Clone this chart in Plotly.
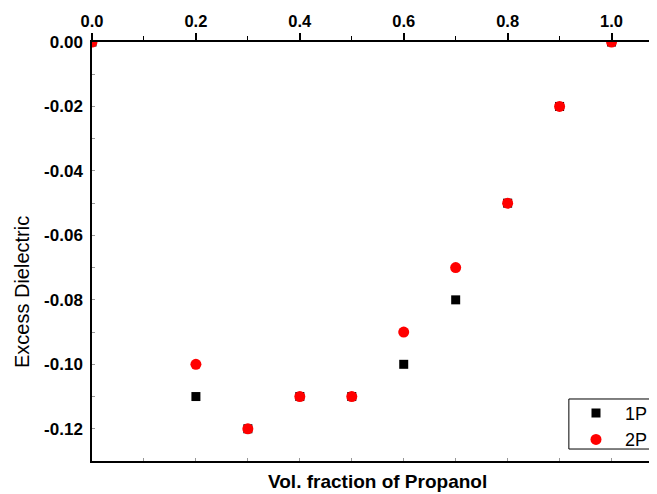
import plotly.graph_objects as go

vol_fraction = [0.0, 0.2, 0.3, 0.4, 0.5, 0.6, 0.7, 0.8, 0.9, 1.0]
excess_1p = [0.0, -0.11, -0.12, -0.11, -0.11, -0.10, -0.08, -0.05, -0.02, 0.0]
excess_2p = [0.0, -0.10, -0.12, -0.11, -0.11, -0.09, -0.07, -0.05, -0.02, 0.0]
x_ticks = [0.0, 0.2, 0.4, 0.6, 0.8, 1.0]
y_ticks = [0.00, -0.02, -0.04, -0.06, -0.08, -0.10, -0.12]
x_title = "Vol. fraction of Propanol"
y_title = "Excess Dielectric"

FONT = "Liberation Sans, Arial, sans-serif"

fig = go.Figure()
fig.add_trace(go.Scatter(x=vol_fraction, y=excess_1p, mode="markers", name="1P",
                         marker=dict(symbol="square", size=9, color="black"),
                         cliponaxis=True))
fig.add_trace(go.Scatter(x=vol_fraction, y=excess_2p, mode="markers", name="2P",
                         marker=dict(symbol="circle", size=11, color="#ff0000"),
                         cliponaxis=True))
fig.add_trace(go.Scatter(x=[None], y=[None], xaxis="x2", showlegend=False, hoverinfo="skip"))

xrange = [0, 1.0875]
# page body has an 8px margin, so the figure is sized to fill the rest of the window
fig.update_layout(
    template="none",
    width=649, height=486,
    margin=dict(l=84, r=0, t=34, b=33, pad=0),
    plot_bgcolor="white", paper_bgcolor="white",
    font=dict(family=FONT, color="black"),
    xaxis=dict(side="top", range=xrange, tickvals=x_ticks, ticktext=[f"{v:.1f}" for v in x_ticks],
               automargin=False,
               showline=True, linecolor="black", linewidth=1.5, showgrid=False, zeroline=False,
               ticks="outside", ticklen=7, tickwidth=1.5, tickcolor="black", ticklabelstandoff=0,
               minor=dict(tickvals=[0.1, 0.3, 0.5, 0.7, 0.9], ticks="outside", ticklen=4, tickcolor="black", tickwidth=1),
               tickfont=dict(size=16.5, family=FONT, weight="bold")),
    xaxis2=dict(overlaying="x", side="bottom", range=xrange, showline=True, linecolor="black", linewidth=1.5,
                automargin=False,
                showgrid=False, zeroline=False, showticklabels=False,
                tickvals=[0.1, 0.2, 0.3, 0.4, 0.5, 0.6, 0.7, 0.8, 0.9, 1.0],
                ticks="inside", ticklen=3, tickcolor="#999999", tickwidth=1),
    yaxis=dict(range=[-0.13, 0.0], tickvals=y_ticks, ticktext=[f"{v:.2f}" for v in y_ticks],
               automargin=False,
               showline=True, linecolor="black", linewidth=1.5, showgrid=False, zeroline=False,
               ticks="inside", ticklen=3, tickcolor="#999999", tickwidth=1, ticklabelstandoff=4,
               minor=dict(tickvals=[-0.01, -0.03, -0.05, -0.07, -0.09, -0.11], ticks="inside", ticklen=3, tickcolor="#999999"),
               tickfont=dict(size=17, family=FONT, weight="bold")),
    legend=dict(x=0.8407, y=0.158, xanchor="left", yanchor="top",
                borderwidth=0, bgcolor="rgba(0,0,0,0)",
                font=dict(size=18, family=FONT), itemwidth=48, tracegroupgap=0),
    showlegend=True,
    shapes=[dict(type="rect", xref="paper", yref="paper", x0=0.844, x1=0.9965, y0=0.0286, y1=0.148,
                 line=dict(color="black", width=1), fillcolor="white", layer="below")],
    annotations=[
        dict(text=x_title, xref="paper", yref="paper", x=0.505, y=-0.05, xanchor="center", yanchor="middle",
             showarrow=False, font=dict(size=19, family=FONT, weight="bold")),
        dict(text=y_title, xref="paper", yref="paper", x=-0.124, y=0.403, xanchor="center", yanchor="middle",
             textangle=-90, showarrow=False, font=dict(size=20, family=FONT)),
    ],
)

fig.write_html("out.html")
